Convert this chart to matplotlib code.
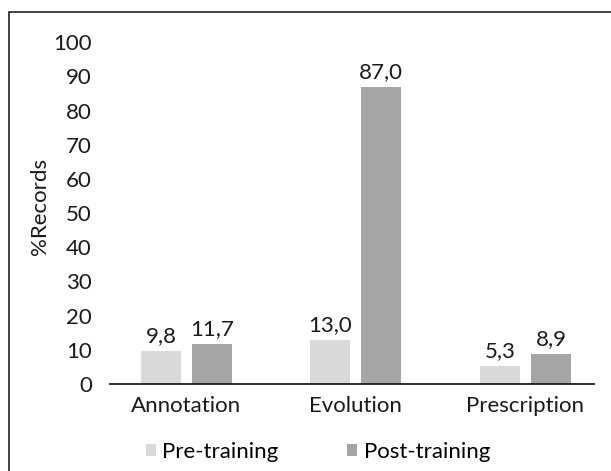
import numpy as np
import matplotlib
matplotlib.use("Agg")
import matplotlib.pyplot as plt
from matplotlib.patches import Rectangle

categories = ["Annotation", "Evolution", "Prescription"]
pre_training = [9.8, 13.0, 5.3]
post_training = [11.7, 87.0, 8.9]
series_names = ["Pre-training", "Post-training"]
colors = ["#d9d9d9", "#a5a5a5"]

plt.rcParams["font.family"] = ["Lato", "DejaVu Sans"]
plt.rcParams["font.size"] = 16

fig = plt.figure(figsize=(6.11, 4.71), dpi=100)
ax = fig.add_axes([110 / 611, 1 - 384 / 471, 484 / 611, 341.7 / 471])

x = np.arange(len(categories))
w = 0.236
off = 0.150
b1 = ax.bar(x - off, pre_training, w, color=colors[0], label=series_names[0])
b2 = ax.bar(x + off, post_training, w, color=colors[1], label=series_names[1])

for bars, vals in [(b1, pre_training), (b2, post_training)]:
    for bar, v in zip(bars, vals):
        ax.annotate(f"{v:.1f}".replace(".", ","),
                    (bar.get_x() + bar.get_width() / 2, v),
                    xytext=(0, 3.5), textcoords="offset points",
                    ha="center", va="bottom", color="#1a1a1a")

ax.set_xlim(-0.45, 2.404)
ax.set_ylim(0, 100)
ax.set_yticks(range(0, 101, 10))
ax.set_xticks(x)
ax.set_xticklabels(categories)
ax.tick_params(axis="y", length=0, pad=13, labelcolor="#1a1a1a")
ax.tick_params(axis="x", length=0, pad=9, labelcolor="#1a1a1a")
for s in ["top", "right", "left"]:
    ax.spines[s].set_visible(False)
ax.spines["bottom"].set_linewidth(1.3)
ax.spines["bottom"].set_color("#1a1a1a")
ax.set_ylabel("%Records", color="#1a1a1a", va="center")
ax.yaxis.set_label_coords(-70 / 484, 0.52)

fig.legend(handles=[b1, b2], labels=series_names, loc="center",
           bbox_to_anchor=(318 / 611, 1 - 452 / 471), ncol=2, frameon=False,
           handlelength=0.45, handleheight=0.45, handletextpad=0.3,
           columnspacing=3.1)

# outer chart border
fig.patches.append(Rectangle((9 / 611, -0.1), 1.2, 1.1 - 12 / 471,
                             transform=fig.transFigure, fill=False,
                             edgecolor="#222222", linewidth=1.2))

fig.savefig("out.png", dpi=100)
